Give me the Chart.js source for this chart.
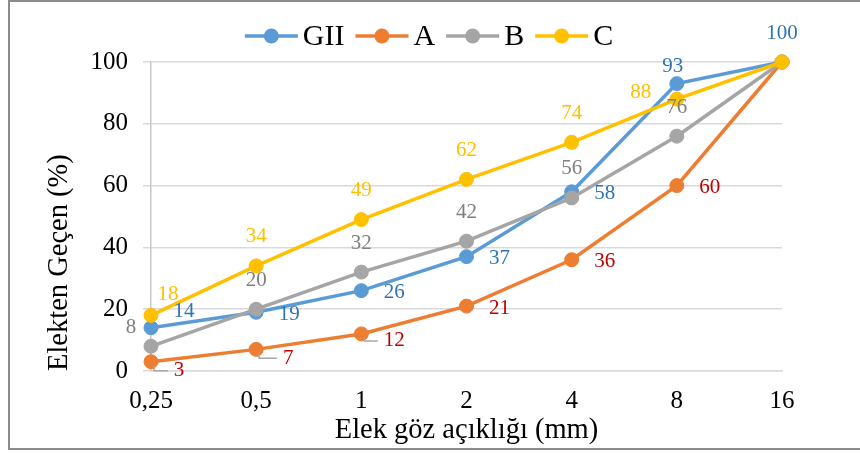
<!DOCTYPE html>
<html>
<head>
<meta charset="utf-8">
<script src="https://cdn.jsdelivr.net/npm/chart.js@4/dist/chart.umd.min.js"></script>
<style>
  html, body { margin: 0; padding: 0; background: #fff; }
  #wrap { width: 860px; height: 454px; }
</style>
</head>
<body>
<div id="wrap"><canvas id="chart" width="860" height="454"></canvas></div>
<script>
const sieveSizes = ['0,25', '0,5', '1', '2', '4', '8', '16'];
const seriesNames = ['GII', 'A', 'B', 'C'];
const giiValues = [14, 19, 26, 37, 58, 93, 100];
const aValues = [3, 7, 12, 21, 36, 60, 100];
const bValues = [8, 20, 32, 42, 56, 76, 100];
const cValues = [18, 34, 49, 62, 74, 88, 100];
const yTicks = [0, 20, 40, 60, 80, 100];

const serif = '"Liberation Serif", "Times New Roman", serif';
const lineColors = ['#5B9BD5', '#ED7D31', '#A5A5A5', '#FFC000'];
const labelColors = ['#2E75B6', '#C00000', '#7F7F7F', '#FFC000'];

// where each value label goes: 'r' right, 't' above, '' hidden, or a [dx, dy] nudge
const labelPlace = [
  [[33, -16], 'r', 'r', 'r', 'r', [-4, -17], 't'],
  [[28, 9], [32, 9], [33, 7], 'r', 'r', 'r', ''],
  [[-20, -19], 't', 't', 't', 't', 't', ''],
  [[17, -21], 't', 't', 't', 't', [-36, -7], '']
];
// labels that get a little leader line back to the point
const leaders = { 1: [0, 1, 2] };

const allValues = [giiValues, aValues, bValues, cValues];

const frame = {
  id: 'frame',
  beforeDraw(chart) {
    const ctx = chart.ctx;
    ctx.save();
    ctx.fillStyle = '#fff';
    ctx.fillRect(0, 0, chart.width, chart.height);
    // right edge of the frame falls outside the picture
    ctx.strokeStyle = '#8C8C8C';
    ctx.lineWidth = 2;
    ctx.strokeRect(9, 1, 860, 448);
    ctx.restore();
  }
};

const valueLabels = {
  id: 'valueLabels',
  afterDatasetsDraw(chart) {
    const ctx = chart.ctx;
    ctx.save();
    ctx.font = '21px ' + serif;
    ctx.textAlign = 'center';
    ctx.textBaseline = 'middle';
    chart.data.datasets.forEach((ds, di) => {
      const meta = chart.getDatasetMeta(di);
      meta.data.forEach((pt, i) => {
        const p = labelPlace[di][i];
        if (!p) return;
        const off = p === 'r' ? [33, 2] : p === 't' ? [0, -29] : p;
        const lx = pt.x + off[0];
        const ly = pt.y + off[1];
        const txt = String(ds.data[i]);
        if (leaders[di] && leaders[di].includes(i)) {
          const half = ctx.measureText(txt).width / 2;
          ctx.strokeStyle = '#A6A6A6';
          ctx.lineWidth = 1.5;
          ctx.beginPath();
          ctx.moveTo(pt.x + 3, pt.y + 4);
          ctx.lineTo(pt.x + 3, ly);
          ctx.lineTo(lx - half - 6, ly);
          ctx.stroke();
        }
        ctx.fillStyle = labelColors[di];
        ctx.fillText(txt, lx, ly);
      });
    });
    ctx.restore();
  }
};

const topLegend = {
  id: 'topLegend',
  afterDraw(chart) {
    const ctx = chart.ctx;
    ctx.save();
    ctx.font = '30px ' + serif;
    ctx.textBaseline = 'middle';
    ctx.textAlign = 'left';
    const lineW = 53, gapText = 5, gapItem = 11, y = 36;
    const widths = seriesNames.map(n => ctx.measureText(n).width);
    const total = widths.reduce((s, w) => s + lineW + gapText + w, 0) + gapItem * (seriesNames.length - 1);
    let x = 429 - total / 2;
    seriesNames.forEach((n, i) => {
      ctx.strokeStyle = lineColors[i];
      ctx.lineWidth = 3.5;
      ctx.beginPath();
      ctx.moveTo(x, y);
      ctx.lineTo(x + lineW, y);
      ctx.stroke();
      ctx.fillStyle = lineColors[i];
      ctx.beginPath();
      ctx.arc(x + lineW / 2, y, 7.5, 0, Math.PI * 2);
      ctx.fill();
      ctx.fillStyle = '#000';
      ctx.fillText(n, x + lineW + gapText, y + 1);
      x += lineW + gapText + widths[i] + gapItem;
    });
    ctx.restore();
  }
};

const drawOrder = [3, 2, 1, 0];

new Chart(document.getElementById('chart'), {
  type: 'line',
  data: {
    labels: sieveSizes,
    datasets: seriesNames.map((name, i) => ({
      label: name,
      data: allValues[i],
      borderColor: lineColors[i],
      backgroundColor: lineColors[i],
      pointBackgroundColor: lineColors[i],
      pointBorderColor: lineColors[i],
      borderWidth: 3.5,
      pointRadius: 7,
      pointHoverRadius: 7,
      pointBorderWidth: 1,
      tension: 0,
      clip: false,
      order: drawOrder[i]
    }))
  },
  options: {
    responsive: false,
    animation: false,
    events: [],
    layout: { padding: { top: 62, right: 78, bottom: 0, left: 0 } },
    plugins: {
      legend: { display: false },
      tooltip: { enabled: false }
    },
    scales: {
      x: {
        offset: false,
        grid: { display: false, drawTicks: false },
        border: { color: '#D9D9D9', width: 1.5 },
        ticks: { color: '#000', font: { family: serif, size: 25 }, padding: 15 },
        title: {
          display: true,
          text: 'Elek göz açıklığı (mm)',
          color: '#000',
          font: { family: serif, size: 28.5 },
          padding: { top: 0, bottom: 6 }
        },
        afterFit(s) { s.height = 83; }
      },
      y: {
        min: 0,
        max: 100,
        afterBuildTicks(s) { s.ticks = yTicks.map(v => ({ value: v })); },
        grid: { color: '#D9D9D9', lineWidth: 1.5, tickLength: 8 },
        border: { color: '#C8C8C8', width: 1.5 },
        ticks: { color: '#000', font: { family: serif, size: 25 }, padding: 15 },
        title: {
          display: true,
          text: 'Elekten Geçen (%)',
          align: 'start',
          color: '#000',
          font: { family: serif, size: 28.5 },
          padding: { top: 42, bottom: 0 }
        },
        afterFit(s) { s.width = 151; }
      }
    }
  },
  plugins: [frame, valueLabels, topLegend]
});
</script>
</body>
</html>
